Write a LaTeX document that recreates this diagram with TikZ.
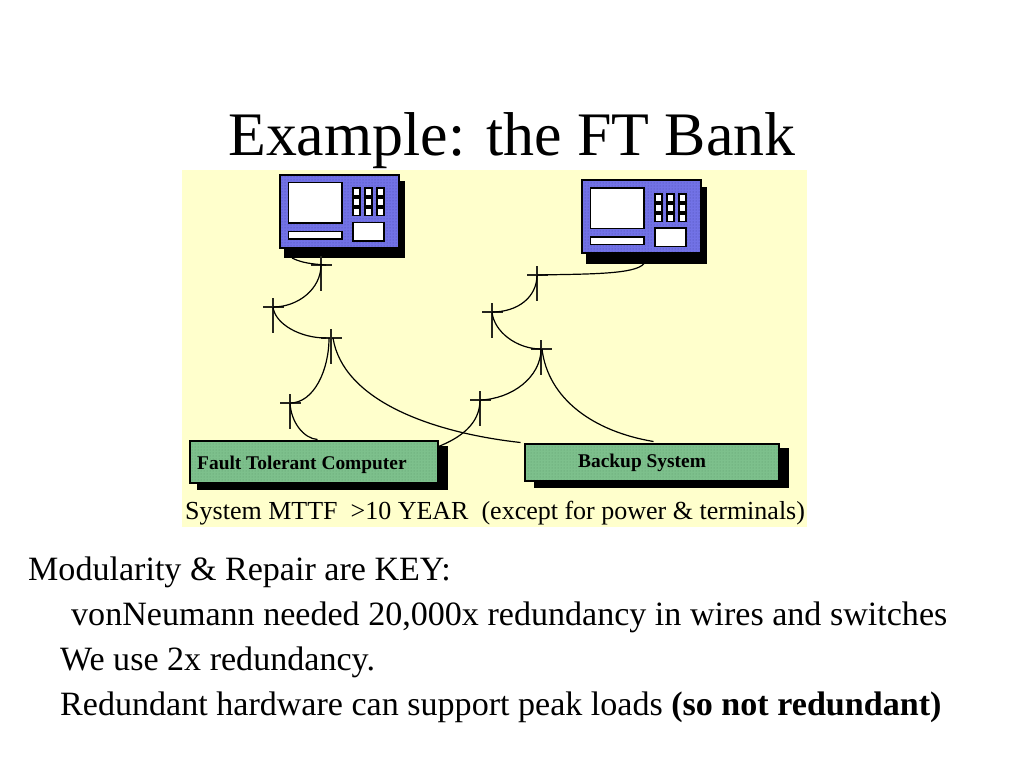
\documentclass[tikz,border=0pt]{standalone}
\usepackage{fontspec}
\setmainfont{Liberation Serif}
\usetikzlibrary{calc,patterns}
\definecolor{panelyellow}{HTML}{FFFFCC}
\definecolor{termblue}{HTML}{7272E6}
\definecolor{termdot}{HTML}{4A4AA8}
\definecolor{boxgreen}{HTML}{7DC08C}
\definecolor{boxdot}{HTML}{5E9A6C}
\tikzset{
  shadowbox/.style={fill=black,draw=none,inner sep=0pt,outer sep=0pt,anchor=north west},
  termbody/.style={draw=black,line width=2pt,inner sep=0pt,outer sep=0pt,anchor=north west,
    preaction={fill=termblue},pattern=dots,pattern color=termdot},
  greenbox/.style={draw=black,line width=2pt,inner sep=0pt,outer sep=0pt,anchor=north west,
    preaction={fill=boxgreen},pattern=dots,pattern color=boxdot},
  whitepart/.style={draw=black,line width=1.8pt,fill=white},
  wire/.style={draw=black,line width=1.2pt},
  tick/.style={draw=black!85!panelyellow,line width=1.3pt},
  boxlabel/.style={inner sep=0pt,anchor=base west,font=\bfseries\fontsize{19.4}{22}\selectfont},
  bodyline/.style={inner sep=0pt,anchor=base west,font=\fontsize{34.07}{40}\selectfont},
}
\newcommand{\junction}[3]{%
  \coordinate (#1) at (#2,#3);
  \draw[tick] ($(#1)+(-10,0)$) -- ($(#1)+(11,0)$);
  \draw[tick] ($(#1)+(0,-9)$) -- ($(#1)+(0,26)$);
}
\newcommand{\wirec}[4]{\draw[wire] (#1) .. controls ($(#1)+#2$) and ($(#3)+#4$) .. (#3);}
\newcommand{\terminal}[3]{%
  \begin{scope}[shift={(#2,#3)}]
    \node[shadowbox,minimum width=121pt,minimum height=77pt] (#1s) at (284,181) {};
    \node[termbody,minimum width=119pt,minimum height=73pt] (#1) at (279.5,174.5) {};
    \draw[whitepart] (288.5,182.5) rectangle (342,223);
    \draw[whitepart] (288.5,231.5) rectangle (342,239);
    \draw[whitepart] (353,222.5) rectangle (384,241);
    \foreach \kx in {352,364,376}{
      \fill[black] (\kx,187) rectangle ++(9,29);
      \foreach \ky in {189,199,209}{
        \fill[white] (\kx+1.75,\ky) rectangle ++(5.5,6);
      }
    }
  \end{scope}
}
\begin{document}
\begin{tikzpicture}[x=1pt,y=-1pt]
  \useasboundingbox (0,0) rectangle (1024,768);
  \fill[white] (0,0) rectangle (1024,768);
  \fill[panelyellow] (182,170) rectangle (807,527);

  \node[inner sep=0pt,anchor=base west,font=\fontsize{61.9}{68}\selectfont] (title) at (228,155) {Example: the FT Bank};

  \terminal{t1}{0}{0}
  \terminal{t2}{302}{5.5}

  \node[shadowbox,minimum width=251pt,minimum height=44pt] (fts) at (197,446) {};
  \node[greenbox,minimum width=248pt,minimum height=42pt] (ft) at (189.5,440.5) {};
  \node[boxlabel] (ftlabel) at (197,469) {Fault Tolerant Computer};
  \node[shadowbox,minimum width=255pt,minimum height=40pt] (bks) at (534,448) {};
  \node[greenbox,minimum width=254pt,minimum height=37pt] (bk) at (524.5,443.5) {};
  \node[boxlabel] (bklabel) at (578,467) {Backup System};

  \junction{ja}{321}{265}
  \junction{jb}{273}{307}
  \junction{jc}{331}{338}
  \junction{jd}{290}{403}
  \junction{je}{480}{400}
  \junction{jf}{541}{349}
  \junction{jg}{492}{312}
  \junction{jh}{537}{275}

  \coordinate (t1port) at ($(t1s.south west)+(8,0)$);
  \coordinate (t2port) at ($(t2s.south west)+(58,0)$);
  \coordinate (jaright) at ($(ja)+(5,0)$);
  \coordinate (jcleft) at ($(jc)+(-5,0)$);
  \coordinate (jcdownl) at ($(jc)+(-2,0)$);
  \coordinate (jcdownr) at ($(jc)+(2,0)$);
  \coordinate (jfdownr) at ($(jf)+(1,0)$);
  \coordinate (bkleft) at ($(bk.north west)+(-4,-1)$);
  \coordinate (bktop) at ($(bk.north west)+(129,-2)$);
  \coordinate (fttop) at ($(ft.north west)+(128,-1)$);
  \coordinate (ftright) at ($(ft.north east)+(1,6)$);

  \wirec{t1port}{(10,5)}{jaright}{(-14,-1)}
  \wirec{ja}{(0,24)}{jb}{(25,0)}
  \wirec{jb}{(2,17)}{jcleft}{(-26,0)}
  \wirec{jcdownl}{(0,32)}{jd}{(24,0)}
  \wirec{jcdownr}{(10,62)}{bkleft}{(-90,-10)}
  \wirec{jd}{(1,19)}{fttop}{(-14,-1)}
  \wirec{je}{(0,25)}{ftright}{(20,-8)}
  \wirec{je}{(32,-1)}{jf}{(0,28)}
  \wirec{jfdownr}{(6,50)}{bktop}{(-60,-10)}
  \wirec{jg}{(2,20)}{jf}{(-24,0)}
  \wirec{jg}{(26,0)}{jh}{(0,22)}
  \wirec{jh}{(50,-1)}{t2port}{(-8,11)}

  \node[inner sep=0pt,anchor=base west,font=\fontsize{26}{30}\selectfont] (mttf) at (185,519) {System MTTF \ >10 YEAR \ (except for power \& terminals)};

  \node[bodyline] (l1) at (28,580) {Modularity \& Repair are KEY:};
  \node[bodyline] (l2) at (71,625) {vonNeumann needed 20,000x redundancy in wires and switches};
  \node[bodyline] (l3) at (60,670.5) {We use 2x redundancy.};
  \node[bodyline] (l4) at (60,715.5) {Redundant hardware can support peak loads {\bfseries (so not redundant)}};
\end{tikzpicture}
\end{document}
